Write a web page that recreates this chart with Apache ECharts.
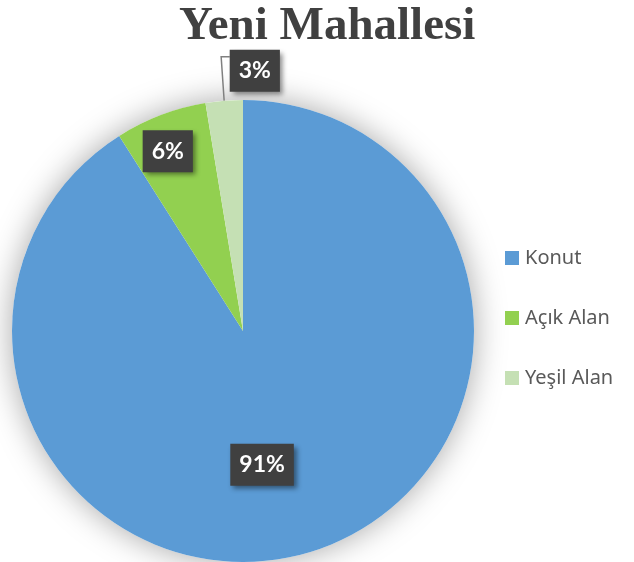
<!DOCTYPE html>
<html>
<head>
<meta charset="utf-8">
<script src="https://cdn.jsdelivr.net/npm/echarts@6/dist/echarts.min.js"></script>
<style>
  html, body { margin: 0; padding: 0; background: #ffffff; }
  #chart { width: 634px; height: 562px; }
</style>
</head>
<body>
<div id="chart"></div>
<script>
// ---- data ----
const titleText = 'Yeni Mahallesi';
const categories = ['Konut', 'Açık Alan', 'Yeşil Alan'];
const values = [91.0, 6.4, 2.6];
const colors = ['#5B9BD5', '#92D050', '#C5E0B4'];

// ---- chart ----
const chart = echarts.init(document.getElementById('chart'), null, { renderer: 'canvas' });

const labelBox = {
  color: '#ffffff',
  fontFamily: 'Lato',
  fontWeight: 'bold',
  fontSize: 23,
  lineHeight: 24,
  backgroundColor: '#404040',
  padding: [9, 9, 9, 9],
  shadowColor: 'rgba(0,0,0,0.45)',
  shadowBlur: 5,
  shadowOffsetX: 3,
  shadowOffsetY: 3,
  formatter: function (p) { return Math.round(p.percent) + '%'; }
};

// label offsets (styling only)
const labelShift = [
  { dx: -14, dy: 20 },
  { dx: -33, dy: -69 },
  null
];

const pieData = categories.map(function (name, i) {
  const item = { name: name, value: values[i], itemStyle: { color: colors[i] } };
  if (i === 2) {
    item.label = { position: 'outside' };
    item.labelLine = { show: true, length: 30, length2: 11, minTurnAngle: 0, lineStyle: { color: '#808080', width: 1.5 } };
  }
  return item;
});

const center = [243, 331];
const radius = 231;

chart.setOption({
  backgroundColor: '#ffffff',
  animation: false,
  title: {
    text: titleText,
    left: 179,
    top: 3,
    padding: 0,
    textStyle: {
      fontFamily: 'Liberation Serif',
      fontWeight: 'bold',
      fontSize: 47,
      color: '#404040'
    }
  },
  legend: {
    orient: 'vertical',
    left: 505,
    top: 248,
    padding: 0,
    itemWidth: 14,
    itemHeight: 14,
    itemGap: 40,
    icon: 'rect',
    data: categories,
    textStyle: { fontFamily: 'Noto Sans', fontSize: 20, color: '#595959', padding: [0, 0, 0, 1] }
  },
  series: [
    {
      type: 'pie',
      name: 'shadow',
      silent: true,
      center: center,
      radius: radius,
      data: [{ name: '', value: 1, itemStyle: { color: '#ffffff', shadowBlur: 32, shadowColor: 'rgba(0,0,0,0.35)' } }],
      label: { show: false },
      labelLine: { show: false },
      z: 1
    },
    {
      type: 'pie',
      name: 'Yeni Mahallesi',
      center: center,
      radius: radius,
      startAngle: 90,
      clockwise: true,
      z: 2,
      itemStyle: { borderWidth: 0 },
      label: Object.assign({ show: true, position: 'inside' }, labelBox),
      labelLayout: function (params) {
        const s = labelShift[params.dataIndex];
        if (s) return { dx: s.dx, dy: s.dy };
        const r = params.labelRect;
        const nx = r.x + r.width + 24;
        const ny = r.y;
        const out = { x: nx, y: ny, align: 'left', verticalAlign: 'top' };
        const pts = params.labelLinePoints;
        if (pts && pts.length) {
          const p0 = pts[0];
          out.labelLinePoints = [
            [p0[0], p0[1]],
            [p0[0] - 3, ny + 7],
            [nx, ny + 7]
          ];
        }
        return out;
      },
      data: pieData
    }
  ]
});
</script>
</body>
</html>
